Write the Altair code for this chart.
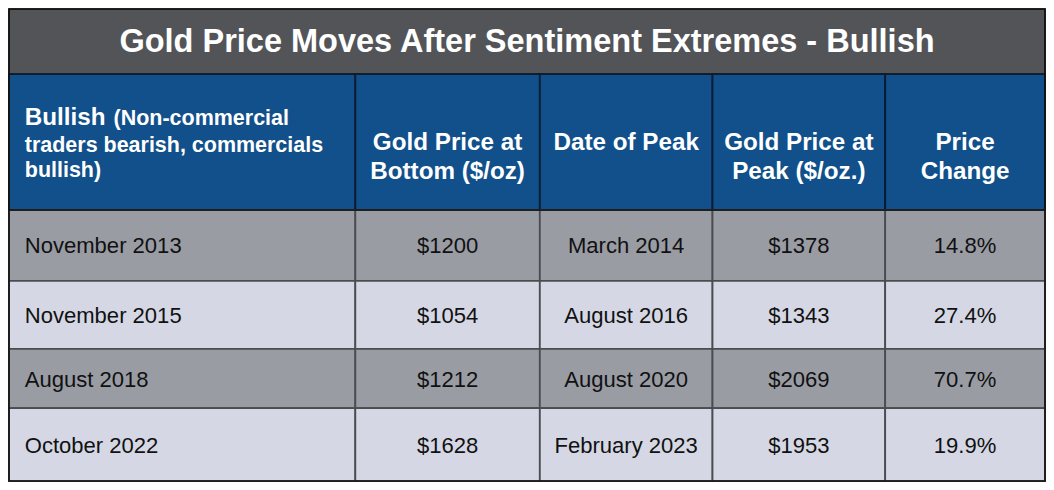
import altair as alt
import pandas as pd

# ---------------- data ----------------
title_text = "Gold Price Moves After Sentiment Extremes - Bullish"
header_lead = "Bullish"
header_first_rest = ["(Non-commercial", "traders bearish, commercials", "bullish)"]
headers = ["Gold Price at\nBottom ($/oz)", "Date of Peak", "Gold Price at\nPeak ($/oz.)", "Price\nChange"]
bottom_dates = ["November 2013", "November 2015", "August 2018", "October 2022"]
bottom_prices = ["$1200", "$1054", "$1212", "$1628"]
peak_dates = ["March 2014", "August 2016", "August 2020", "February 2023"]
peak_prices = ["$1378", "$1343", "$2069", "$1953"]
price_changes = ["14.8%", "27.4%", "70.7%", "19.9%"]

# ---------------- layout (reference pixel grid) ----------------
col_edges = [1, 352, 539, 714, 889, 1051]
row_edges = [1, 68, 208, 281, 351, 412, 487]
GRID_W, GRID_H = 1052, 488
W, H = 1038, 474
SCALE = 0.985

TITLE_BG = "#535458"
HEADER_BG = "#11508A"
ROW_DARK = "#9A9CA4"
ROW_LIGHT = "#D5D8E4"
FONT = "Liberation Sans"

xs = alt.Scale(domain=[0, GRID_W], nice=False, zero=False)
ys = alt.Scale(domain=[0, GRID_H], nice=False, zero=False, reverse=True)

# ---------------- cells ----------------
cells = []
cells.append(dict(x=col_edges[0], x2=col_edges[-1], y=row_edges[0], y2=row_edges[1],
                  fill=TITLE_BG, stroke="#1a1a1a", sw=1.5))
for c in range(5):
    cells.append(dict(x=col_edges[c], x2=col_edges[c + 1], y=row_edges[1], y2=row_edges[2],
                      fill=HEADER_BG, stroke="#0b1c30", sw=1.8))
for r in range(4):
    for c in range(5):
        cells.append(dict(x=col_edges[c], x2=col_edges[c + 1], y=row_edges[r + 2], y2=row_edges[r + 3],
                          fill=ROW_DARK if r % 2 == 0 else ROW_LIGHT, stroke="#4c4c50", sw=1.8))
cells_df = pd.DataFrame(cells)

rects = alt.Chart(cells_df).mark_rect().encode(
    x=alt.X("x:Q", scale=xs, axis=None),
    x2="x2:Q",
    y=alt.Y("y:Q", scale=ys, axis=None),
    y2="y2:Q",
    fill=alt.Fill("fill:N", scale=None),
    stroke=alt.Stroke("stroke:N", scale=None),
    strokeWidth=alt.StrokeWidth("sw:Q", scale=None),
)

# header/body divider and outer frame
frame_df = pd.DataFrame([dict(x=col_edges[0], x2=col_edges[-1], y=row_edges[0], y2=row_edges[-1])])
frame = alt.Chart(frame_df).mark_rect(fill=None, stroke="#111111", strokeWidth=1.6).encode(
    x=alt.X("x:Q", scale=xs, axis=None), x2="x2:Q",
    y=alt.Y("y:Q", scale=ys, axis=None), y2="y2:Q",
)
divider_df = pd.DataFrame([dict(x=col_edges[0], x2=col_edges[-1], y=row_edges[2])])
divider = alt.Chart(divider_df).mark_rule(stroke="#111111", strokeWidth=1.6).encode(
    x=alt.X("x:Q", scale=xs, axis=None), x2="x2:Q",
    y=alt.Y("y:Q", scale=ys, axis=None),
)

# ---------------- texts ----------------
title_df = pd.DataFrame([dict(x=(col_edges[0] + col_edges[-1]) / 2, y=(row_edges[0] + row_edges[1]) / 2 + 1, t=title_text)])
title = alt.Chart(title_df).mark_text(
    font=FONT, fontSize=33 * SCALE, fontWeight="bold", color="white", baseline="middle", align="center"
).encode(x=alt.X("x:Q", scale=xs, axis=None), y=alt.Y("y:Q", scale=ys, axis=None), text="t:N")

# first header cell (mixed sizes)
fh = [
    dict(x=17, y=120.5, t=header_lead, s=24.6 * SCALE),
    dict(x=107, y=120.5, t=header_first_rest[0], s=21.8 * SCALE),
    dict(x=17, y=148, t=header_first_rest[1], s=21.8 * SCALE),
    dict(x=17, y=174.5, t=header_first_rest[2], s=21.8 * SCALE),
]
fh_df = pd.DataFrame(fh)
first_header = alt.Chart(fh_df).mark_text(
    font=FONT, fontWeight="bold", color="white", baseline="alphabetic", align="left"
).encode(
    x=alt.X("x:Q", scale=xs, axis=None), y=alt.Y("y:Q", scale=ys, axis=None),
    text="t:N", size=alt.Size("s:Q", scale=None),
)

hd_df = pd.DataFrame([
    dict(x=(col_edges[i + 1] + col_edges[i + 2]) / 2, y=(row_edges[1] + row_edges[2]) / 2 + 1, t=h)
    for i, h in enumerate(headers)
])
other_headers = alt.Chart(hd_df).mark_text(
    font=FONT, fontSize=24.6 * SCALE, fontWeight="bold", color="white", baseline="middle",
    align="center", lineBreak="\n", lineHeight=29 * SCALE
).encode(x=alt.X("x:Q", scale=xs, axis=None), y=alt.Y("y:Q", scale=ys, axis=None), text="t:N")

body = []
for r in range(4):
    yc = (row_edges[r + 2] + row_edges[r + 3]) / 2 + 1
    body.append(dict(x=17, y=yc, t=bottom_dates[r], a="left"))
    for c, vals in enumerate([bottom_prices, peak_dates, peak_prices, price_changes]):
        body.append(dict(x=(col_edges[c + 1] + col_edges[c + 2]) / 2, y=yc, t=vals[r], a="center"))
body_df = pd.DataFrame(body)

body_left = alt.Chart(body_df[body_df.a == "left"]).mark_text(
    font=FONT, fontSize=22.4 * SCALE, color="#111111", baseline="middle", align="left"
).encode(x=alt.X("x:Q", scale=xs, axis=None), y=alt.Y("y:Q", scale=ys, axis=None), text="t:N")
body_center = alt.Chart(body_df[body_df.a == "center"]).mark_text(
    font=FONT, fontSize=22.4 * SCALE, color="#111111", baseline="middle", align="center"
).encode(x=alt.X("x:Q", scale=xs, axis=None), y=alt.Y("y:Q", scale=ys, axis=None), text="t:N")

chart = alt.layer(
    rects, divider, frame, title, first_header, other_headers, body_left, body_center
).properties(
    width=W, height=H, padding=0, autosize=alt.AutoSizeParams(type="none")
).configure_view(stroke=None)

chart.save("out.html", embed_options={"renderer": "svg", "actions": False})
